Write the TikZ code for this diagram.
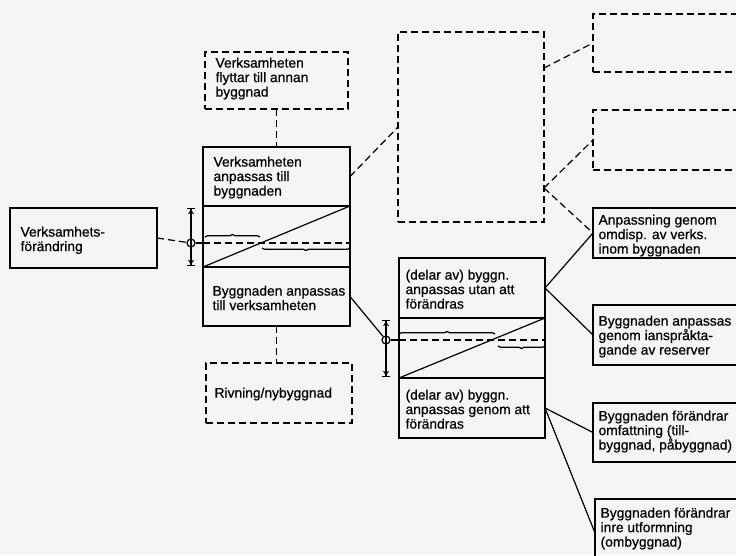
\documentclass[tikz,border=0pt]{standalone}
\usepackage{fontspec}
\setmainfont[FakeBold=0.6]{Liberation Sans}
\usetikzlibrary{arrows.meta,calc,decorations.pathreplacing}
\definecolor{paper}{RGB}{245,245,243}
\begin{document}
\begin{tikzpicture}[x=1pt,y=-1pt,line width=1.2pt,
  box/.style={draw,anchor=north west,inner sep=0pt,outer sep=0pt},
  dline/.style={dash pattern=on 7pt off 4pt},
  dbox/.style={box,dline},
  txt/.style={anchor=north west,inner sep=0pt,align=left,font=\fontsize{13.8}{14.5}\selectfont},
  arr/.style={arrows={Bar[width=8pt]Stealth[length=5pt,width=6pt]-Stealth[length=5pt,width=6pt]Bar[width=8pt]}},
  brc/.style={decorate,decoration={brace,amplitude=2.5pt,aspect=0.5}},
  ring/.style={circle,draw,inner sep=0pt,minimum size=8pt}]
\fill[paper] (0,0) rectangle (736,555);
\clip (0,0) rectangle (736,555);
% left column
\node[box,minimum width=147pt,minimum height=60pt] (L) at (10,208) {};
\node[dbox,minimum width=143pt,minimum height=57pt] (F) at (205,52) {};
\node[box,minimum width=147pt,minimum height=59pt] (mA) at (203,147) {};
\node[box,minimum width=147pt,minimum height=61pt] (mB) at (203,206) {};
\node[box,minimum width=147pt,minimum height=59pt] (mC) at (203,267) {};
\node[dbox,minimum width=146pt,minimum height=60pt] (R) at (206,363) {};
% middle column
\node[dbox,minimum width=146pt,minimum height=190pt] (big) at (398,32) {};
\node[box,minimum width=146pt,minimum height=60pt] (rA) at (399,258) {};
\node[box,minimum width=146pt,minimum height=60pt] (rB) at (399,318) {};
\node[box,minimum width=146pt,minimum height=60pt] (rC) at (399,378) {};
% right column
\node[dbox,minimum width=170pt,minimum height=58pt] (b1) at (593,14) {};
\node[dbox,minimum width=170pt,minimum height=60pt] (b2) at (593,110) {};
\node[box,minimum width=170pt,minimum height=50pt] (b3) at (593,208) {};
\node[box,minimum width=170pt,minimum height=60pt] (b4) at (593,305) {};
\node[box,minimum width=170pt,minimum height=59pt] (b5) at (593,403) {};
\node[box,minimum width=170pt,minimum height=68pt] (b6) at (595,499) {};
% band 1
\node[ring] (c1) at (191,243) {};
\draw (mB.south west) -- (mB.north east);
\draw[brc] (205,237) -- (260,237);
\draw[brc] (350,248) -- (262,248);
\draw (c1.east) -- (mB.west |- c1);
\draw[dline] (mB.west |- c1) -- (mB.east |- c1);
\draw[arr] ($(c1 |- mB.north)+(0,2)$) -- ($(c1 |- mB.south)+(0,-1)$);
% band 2
\node[ring] (c2) at (386,340) {};
\draw (rB.south west) -- (rB.north east);
\draw[brc] (399,334) -- (495,334);
\draw[brc] (545,346) -- (498,346);
\draw (c2.east) -- (rB.west |- c2);
\draw[dline] (rB.west |- c2) -- (rB.east |- c2);
\draw[arr] ($(c2 |- rB.north)+(0,2)$) -- ($(c2 |- rB.south)+(0,-1)$);
% connectors
\coordinate (bigp) at ($(big.north east)!0.821!(big.south east)$);
\coordinate (bigq) at ($(big.north east)+(0,36)$);
\draw[dline] (L.east) -- (c1);
\draw[dline] (F.south) -- (mA.north);
\draw[dline] (mC.south) -- (mC.south |- R.north);
\draw[dline] (mA.east) -- (big.west);
\draw[dline] (bigq) -- (b1.west);
\draw[dline] (bigp) -- (b2.west);
\draw[dline] (bigp) -- (b3.west);
\draw (mC.east) -- (c2);
\draw (rA.east) -- (b3.west);
\draw (rA.east) -- (b4.west);
\draw (rC.east) -- (b5.west);
\draw (rC.east) -- (b6.west);
% texts
\node[txt] (tL) at (20,226) {Verksamhets-\\förändring};
\node[txt] (tF) at (215,57) {Verksamheten\\flyttar till annan\\byggnad};
\node[txt] (tA) at (213,156) {Verksamheten\\anpassas till\\byggnaden};
\node[txt] (tC) at (212,285) {Byggnaden anpassas\\till verksamheten};
\node[txt] (tR) at (214,387) {Rivning/nybyggnad};
\node[txt] (tRA) at (405,269) {(delar av) byggn.\\anpassas utan att\\förändras};
\node[txt] (tRC) at (405,389) {(delar av) byggn.\\anpassas genom att\\förändras};
\node[txt] (t3) at (598,214) {Anpassning genom\\omdisp. av verks.\\inom byggnaden};
\node[txt] (t4) at (598,315) {Byggnaden anpassas\\genom ianspråkta-\\gande av reserver};
\node[txt] (t5) at (598,410) {Byggnaden förändrar\\omfattning (till-\\byggnad, påbyggnad)};
\node[txt] (t6) at (600,507) {Byggnaden förändrar\\inre utformning\\(ombyggnad)};
\end{tikzpicture}
\end{document}
